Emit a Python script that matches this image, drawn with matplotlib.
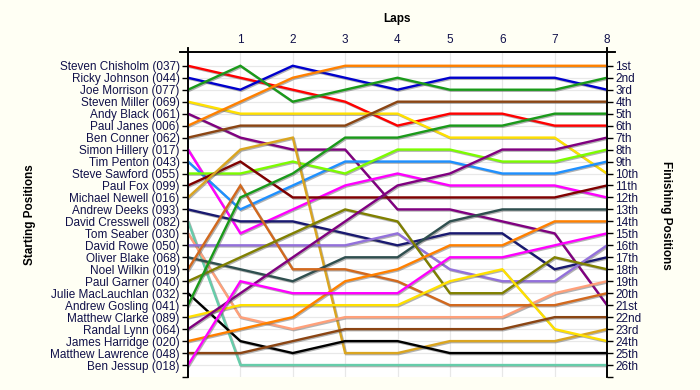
import matplotlib
matplotlib.use("Agg")
import matplotlib.pyplot as plt
import matplotlib.patheffects as pe

riders = ["Steven Chisholm (037)", "Ricky Johnson (044)", "Joe Morrison (077)",
          "Steven Miller (069)", "Andy Black (061)", "Paul Janes (006)",
          "Ben Conner (062)", "Simon Hillery (017)", "Tim Penton (043)",
          "Steve Sawford (055)", "Paul Fox (099)", "Michael Newell (016)",
          "Andrew Deeks (093)", "David Cresswell (082)", "Tom Seaber (030)",
          "David Rowe (050)", "Oliver Blake (068)", "Noel Wilkin (019)",
          "Paul Garner (040)", "Julie MacLauchlan (032)", "Andrew Gosling (041)",
          "Matthew Clarke (089)", "Randal Lynn (064)", "James Harridge (020)",
          "Matthew Lawrence (048)", "Ben Jessup (018)"]

laps = [0, 1, 2, 3, 4, 5, 6, 7, 8]
lap_labels = ["", "1", "2", "3", "4", "5", "6", "7", "8"]

# position of each rider after every lap (lap 0 = starting grid)
positions = [
    [1, 2, 3, 4, 6, 5, 5, 6, 6],
    [2, 3, 1, 2, 3, 2, 2, 2, 3],
    [3, 1, 4, 3, 2, 3, 3, 3, 2],
    [4, 5, 5, 5, 5, 7, 7, 7, 10],
    [5, 7, 8, 8, 13, 13, 14, 15, 21],
    [6, 4, 2, 1, 1, 1, 1, 1, 1],
    [7, 6, 6, 6, 4, 4, 4, 4, 4],
    [8, 15, 13, 11, 10, 11, 11, 11, 12],
    [9, 13, 11, 9, 9, 9, 10, 10, 9],
    [10, 10, 9, 10, 8, 8, 9, 9, 8],
    [11, 9, 12, 12, 12, 12, 12, 12, 11],
    [12, 8, 7, 25, 25, 24, 24, 24, 23],
    [13, 14, 14, 15, 16, 15, 15, 18, 17],
    [14, 26, 26, 26, 26, 26, 26, 26, 26],
    [15, 22, 23, 22, 22, 22, 22, 20, 19],
    [16, 16, 16, 16, 15, 18, 19, 19, 16],
    [17, 18, 19, 17, 17, 14, 13, 13, 13],
    [18, 11, 18, 18, 19, 21, 21, 21, 20],
    [19, 17, 15, 13, 14, 20, 20, 17, 18],
    [20, 24, 25, 24, 24, 25, 25, 25, 25],
    [21, 12, 10, 7, 7, 6, 6, 5, 5],
    [22, 21, 21, 21, 21, 19, 18, 23, 24],
    [23, 20, 17, 14, 11, 10, 8, 8, 7],
    [24, 23, 22, 19, 18, 16, 16, 14, 14],
    [25, 25, 24, 23, 23, 23, 23, 22, 22],
    [26, 19, 20, 20, 20, 17, 17, 16, 15],
]

colors = ["#ff0000", "#0000cd", "#1a9a1a", "#ffe000", "#800080", "#ff8000",
          "#8b4513", "#ff00ff", "#1e90ff", "#7cfc00", "#800000", "#daa520",
          "#191970", "#66cdaa", "#ffa07a", "#9370db", "#2f4f4f", "#d2691e",
          "#808000", "#000000", "#1a9a1a", "#ffe000", "#800080", "#ff8000",
          "#8b4513", "#ff00ff"]

finish_labels = ["1st", "2nd", "3rd"] + [f"{i}th" for i in range(4, 21)] + \
                ["21st", "22nd", "23rd", "24th", "25th", "26th"]

bg = "#fffff4"
txt = "#10104a"

fig = plt.figure(figsize=(7, 3.9), dpi=100, facecolor=bg)
ax = fig.add_axes([188 / 700, 1 - 377 / 390, 419 / 700, 325 / 390])
ax.set_facecolor("white")

n = len(riders)
shadow = [pe.SimpleLineShadow(offset=(0.8, -0.8), shadow_color="#555555", alpha=0.45),
          pe.Normal()]
for pos, c in zip(positions, colors):
    ax.plot(laps, pos, color=c, lw=1.7, zorder=3, path_effects=shadow,
            solid_joinstyle="miter")

ax.set_xlim(0, 8)
ax.set_ylim(27, -0.15)

# grid
for r in range(1, n + 1):
    ax.axhline(r, color="#e8e8e8", lw=0.9, zorder=1)
for l in laps[1:-1]:
    ax.axvline(l, color="#e8e8e8", lw=0.9, zorder=1)

ax.xaxis.tick_top()
ax.set_xticks(laps)
ax.set_xticklabels(lap_labels, fontsize=8.5, color=txt, family="Liberation Sans")
ax.tick_params(axis="x", length=0, pad=4)

ticks = list(range(1, n + 1)) + [27]
ax.set_yticks(ticks)
ax.set_yticklabels(riders + [""], fontsize=8.5, color=txt, family="Liberation Sans")
ax.tick_params(axis="y", direction="out", length=4, width=1, color="black", pad=2)

ax2 = ax.twinx()
ax2.set_ylim(ax.get_ylim())
ax2.set_yticks(ticks)
ax2.set_yticklabels(finish_labels + [""], fontsize=8.5, color=txt, family="Liberation Sans")
ax2.tick_params(axis="y", direction="out", length=4, width=1, color="black", pad=2)

for a in (ax, ax2):
    a.spines["bottom"].set_visible(False)
    a.spines["left"].set_linewidth(1.2)
    a.spines["right"].set_linewidth(1.2)
    a.spines["top"].set_linewidth(1.2)
    a.spines["left"].set_bounds(27, -0.5)
    a.spines["right"].set_bounds(27, -0.5)
ax2.spines["top"].set_bounds(-0.15, 8.15)
ax.spines["top"].set_bounds(-0.15, 8.15)

fig.text(397 / 700, 1 - 19 / 390, "Laps", ha="center", va="center",
         fontsize=8.5, fontweight="bold", family="Liberation Sans")
fig.text(30 / 700, 1 - 215 / 390, "Starting Positions", ha="center", va="center",
         rotation=90, fontsize=8.5, fontweight="bold", family="Liberation Sans")
fig.text(666 / 700, 1 - 215 / 390, "Finishing Positions", ha="center", va="center",
         rotation=270, fontsize=8.5, fontweight="bold", family="Liberation Sans")

fig.savefig("out.png", dpi=100, facecolor=bg)
